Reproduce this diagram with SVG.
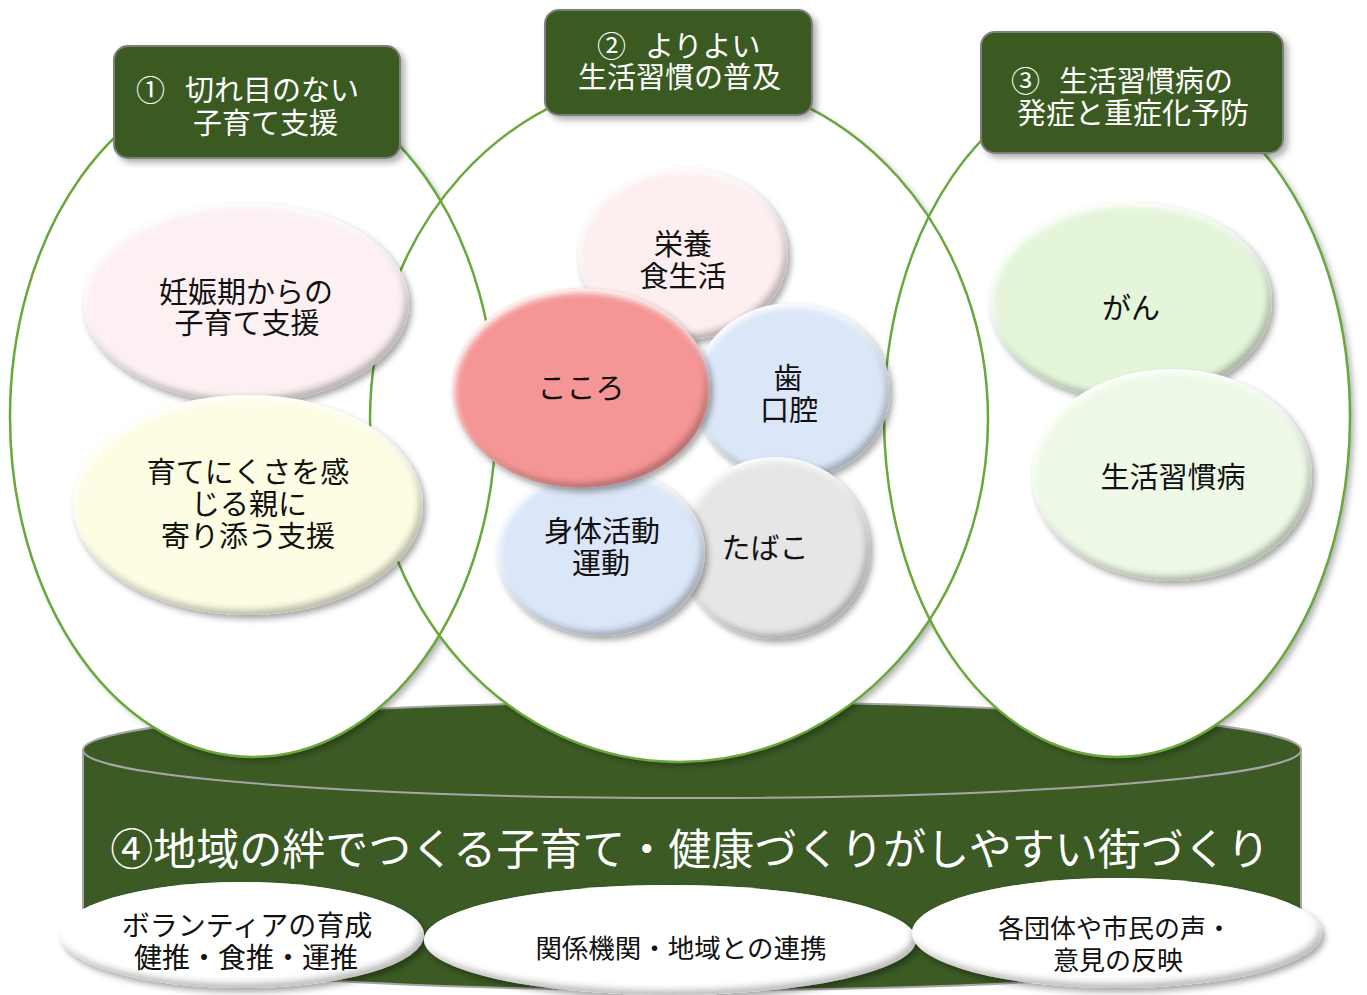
<svg xmlns="http://www.w3.org/2000/svg" width="1367" height="995" viewBox="0 0 1367 995">
<style>
.t{font-family:"Noto Sans CJK JP","Noto Sans CJK SC",sans-serif;fill:#111;text-anchor:middle}
.w{font-family:"Noto Sans CJK JP","Noto Sans CJK SC",sans-serif;fill:#fff}
.big{fill:#fff}
.ring{fill:none;stroke:#6aa83c;stroke-width:2.5}
.hdr{fill:#3b5a24;stroke:#7f7f7f;stroke-width:2}
.cyl{fill:#3b5a24;stroke:#a6a6a6;stroke-width:2}
</style>
<defs>
<filter id="bev" x="-15%" y="-15%" width="135%" height="140%">
<feGaussianBlur in="SourceAlpha" stdDeviation="3" result="b"/>
<feOffset in="b" dx="-4" dy="-5" result="o1"/>
<feComposite in="SourceAlpha" in2="o1" operator="out" result="sh"/>
<feFlood flood-color="#000" flood-opacity="0.5"/>
<feComposite in2="sh" operator="in" result="shRim"/>
<feOffset in="b" dx="2" dy="4" result="o2"/>
<feComposite in="SourceAlpha" in2="o2" operator="out" result="hl"/>
<feFlood flood-color="#fff" flood-opacity="0.95"/>
<feComposite in2="hl" operator="in" result="hiRim"/>
<feGaussianBlur in="SourceAlpha" stdDeviation="3" result="db"/>
<feOffset in="db" dx="3" dy="4" result="dbo"/>
<feFlood flood-color="#000" flood-opacity="0.35"/>
<feComposite in2="dbo" operator="in" result="ds"/>
<feMerge><feMergeNode in="ds"/><feMergeNode in="SourceGraphic"/><feMergeNode in="shRim"/><feMergeNode in="hiRim"/></feMerge>
</filter>
<filter id="sh" x="-10%" y="-10%" width="125%" height="125%">
<feDropShadow dx="4" dy="4" stdDeviation="3" flood-color="#000" flood-opacity="0.3"/>
</filter>
</defs>

<g id="base-cylinder">
<path class="cyl" d="M83,750 V942 A609,48 0 0 0 1301,942 V750 Z"/>
<ellipse class="cyl" cx="692" cy="750" rx="609" ry="48"/>
</g>

<g id="big-circles">
<g filter="url(#sh)">
<ellipse class="big" cx="253" cy="417" rx="243" ry="340"/>
<ellipse class="big" cx="679" cy="419" rx="309" ry="343"/>
<ellipse class="big" cx="1117" cy="417" rx="233" ry="340"/>
</g>
<ellipse class="ring" cx="253" cy="417" rx="243" ry="340"/>
<ellipse class="ring" cx="679" cy="419" rx="309" ry="343"/>
<ellipse class="ring" cx="1117" cy="417" rx="233" ry="340"/>
</g>

<g id="header1">
<rect class="hdr" x="114" y="46" width="286" height="112" rx="14" filter="url(#sh)"/>
<text class="w" font-size="29"><tspan x="136" y="101">①</tspan><tspan x="185" y="101">切れ目のない</tspan><tspan x="193" y="134">子育て支援</tspan></text>
</g>
<g id="header2">
<rect class="hdr" x="545" y="10" width="267" height="105" rx="14" filter="url(#sh)"/>
<text class="w" font-size="29"><tspan x="597" y="57">②</tspan><tspan x="645" y="57">よりよい</tspan><tspan x="578" y="88">生活習慣の普及</tspan></text>
</g>
<g id="header3">
<rect class="hdr" x="981" y="32" width="302" height="121" rx="14" filter="url(#sh)"/>
<text class="w" font-size="29"><tspan x="1011" y="92">③</tspan><tspan x="1059" y="92">生活習慣病の</tspan><tspan x="1017" y="124">発症と重症化予防</tspan></text>
</g>

<g id="node-ninshin">
<ellipse cx="246" cy="303" rx="163" ry="100" fill="#fcf0f2" filter="url(#bev)"/>
<text class="t" font-size="29"><tspan x="246" y="303">妊娠期からの</tspan><tspan x="247" y="334">子育て支援</tspan></text>
</g>
<g id="node-sodate">
<ellipse cx="248" cy="505" rx="175" ry="110" fill="#fdfde4" filter="url(#bev)"/>
<text class="t" font-size="29"><tspan x="248" y="483">育てにくさを感</tspan><tspan x="249" y="515">じる親に</tspan><tspan x="248" y="547">寄り添う支援</tspan></text>
</g>

<g id="node-eiyou">
<ellipse cx="683" cy="254" rx="105" ry="86" fill="#fdeef0" filter="url(#bev)"/>
<text class="t" font-size="29"><tspan x="683" y="255">栄養</tspan><tspan x="683" y="287">食生活</tspan></text>
</g>
<g id="node-ha">
<ellipse cx="792" cy="391" rx="98" ry="88" fill="#dbe6f8" filter="url(#bev)"/>
<text class="t" font-size="29"><tspan x="788" y="389">歯</tspan><tspan x="789" y="421">口腔</tspan></text>
</g>
<g id="node-tabako">
<ellipse cx="775" cy="548" rx="95" ry="91" fill="#e6e6e6" filter="url(#bev)"/>
<text class="t" font-size="29" x="765" y="559">たばこ</text>
</g>
<g id="node-shintai">
<ellipse cx="601" cy="552" rx="104" ry="84" fill="#dbe6f8" filter="url(#bev)"/>
<text class="t" font-size="29"><tspan x="602" y="542">身体活動</tspan><tspan x="601" y="574">運動</tspan></text>
</g>
<g id="node-kokoro">
<ellipse cx="581" cy="388" rx="129" ry="100" fill="#f59595" filter="url(#bev)"/>
<text class="t" font-size="29" x="581" y="399">こころ</text>
</g>

<g id="node-gan">
<ellipse cx="1131" cy="301" rx="141" ry="99" fill="#e4f5da" filter="url(#bev)"/>
<text class="t" font-size="29" x="1131" y="319">がん</text>
</g>
<g id="node-seikatsu">
<ellipse cx="1172" cy="475" rx="140" ry="106" fill="#edf9e6" filter="url(#bev)"/>
<text class="t" font-size="29" x="1173" y="488">生活習慣病</text>
</g>

<g id="title">
<text class="w" font-size="43" text-anchor="middle" x="690" y="865">④地域の絆でつくる子育て・健康づくりがしやすい街づくり</text>
</g>

<g id="node-volunteer">
<ellipse cx="242" cy="935" rx="182" ry="53" fill="#fff" filter="url(#bev)"/>
<text class="t" font-size="28"><tspan x="247" y="936">ボランティアの育成</tspan><tspan x="246" y="968">健推・食推・運推</tspan></text>
</g>
<g id="node-kankei">
<ellipse cx="670" cy="940" rx="246" ry="55" fill="#fff" filter="url(#bev)"/>
<text class="t" font-size="26.5" x="681" y="958">関係機関・地域との連携</text>
</g>
<g id="node-koe">
<ellipse cx="1117" cy="933" rx="205" ry="55" fill="#fff" filter="url(#bev)"/>
<text class="t" font-size="26"><tspan x="1115" y="938">各団体や市民の声・</tspan><tspan x="1118" y="970">意見の反映</tspan></text>
</g>

<g id="connectors"></g>
</svg>
